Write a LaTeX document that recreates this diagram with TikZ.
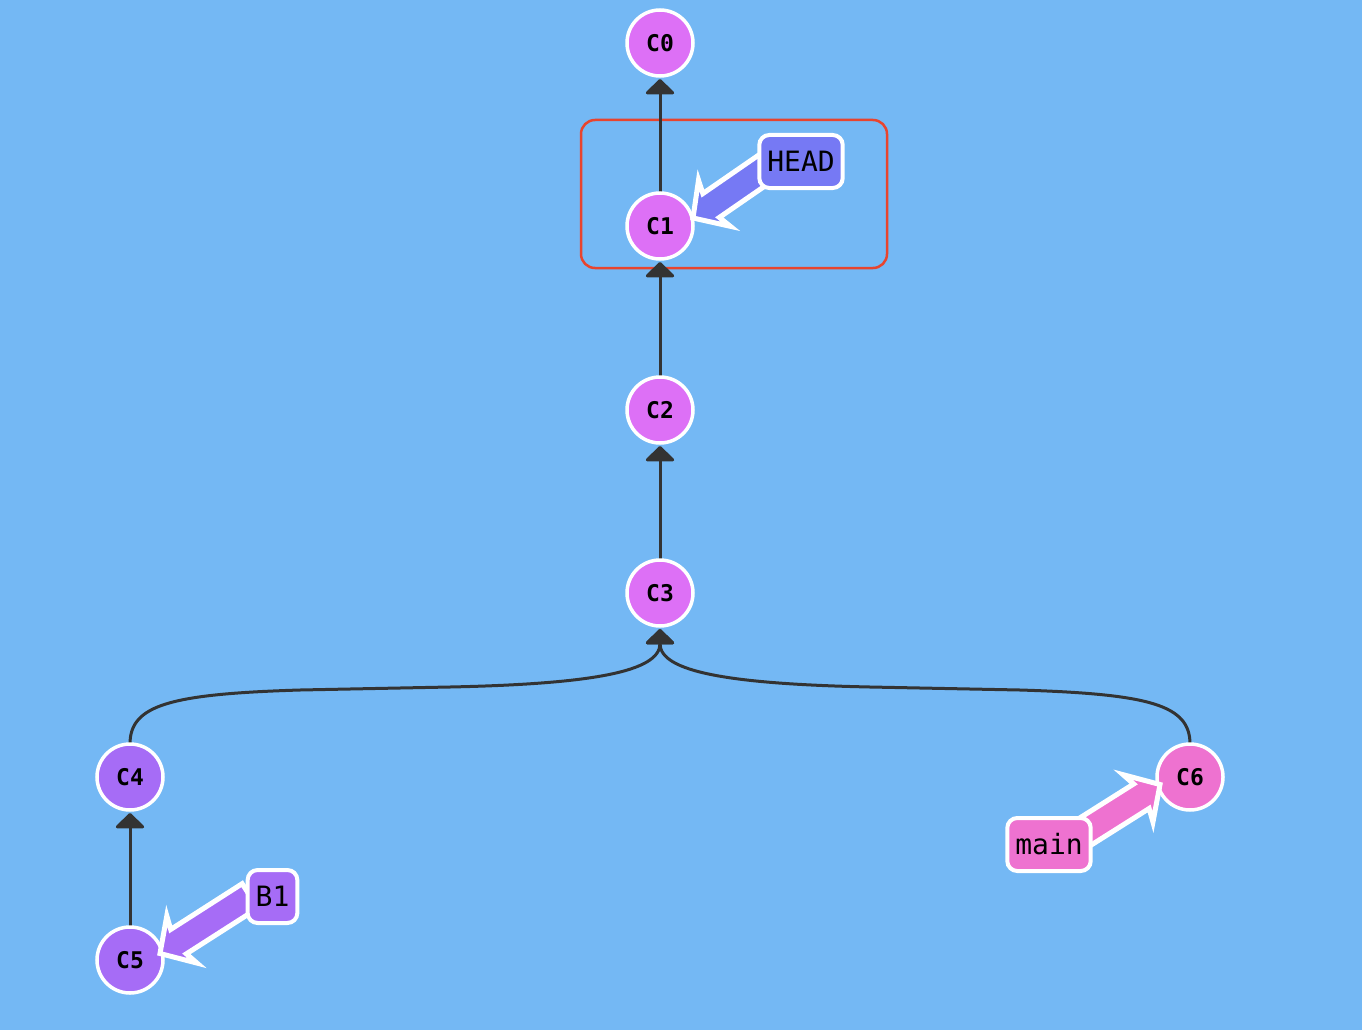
\documentclass[tikz,border=0pt]{standalone}
\usepackage{fontspec}
\setmonofont{DejaVu Sans Mono}
\usetikzlibrary{calc,arrows.meta}
\pgfdeclarelayer{bg}
\pgfdeclarelayer{arrows}
\pgfdeclarelayer{labels}
\pgfsetlayers{bg,main,arrows,labels}
\definecolor{bgblue}{RGB}{116,184,244}
\definecolor{cpink}{RGB}{221,112,246}
\definecolor{cpurple}{RGB}{166,108,246}
\definecolor{cmain}{RGB}{238,114,208}
\definecolor{chead}{RGB}{118,121,244}
\definecolor{edgegray}{RGB}{51,51,51}
\definecolor{boxred}{RGB}{232,68,46}
\tikzset{
  commit/.style={circle, draw=white, line width=3.5pt, minimum size=66pt, inner sep=0pt, outer sep=0pt,
    font=\ttfamily\bfseries\fontsize{23}{23}\selectfont},
  reflabel/.style={draw=white, line width=4pt, rounded corners=10pt, minimum height=53pt,
    inner xsep=8pt, inner ysep=0pt, font=\ttfamily\fontsize{28}{28}\selectfont},
  parentedge/.style={draw=edgegray, line width=3pt, -{Triangle[width=32pt,length=16pt,round]}, shorten >=3pt},
}
% #1 name, #2 tip coordinate, #3 tail coordinate, #4 colour
\newcommand\fatarrow[4]{%
  \coordinate (#1-barb) at ($(#2)!26pt!(#3)$);
  \coordinate (#1-notch) at ($(#2)!22pt!(#3)$);
  \coordinate (#1-end) at ($(#2)!0.8!(#3)$);
  \filldraw[fill=#4, draw=white, line width=5pt, line join=miter]
    (#2) -- ($(#1-barb)!28pt!90:(#2)$) -- ($(#1-notch)!14.5pt!90:(#2)$)
    -- ($(#1-end)!14.5pt!90:(#2)$) -- ($(#1-end)!14.5pt!-90:(#2)$)
    -- ($(#1-notch)!14.5pt!-90:(#2)$) -- ($(#1-barb)!28pt!-90:(#2)$) -- cycle;
}
\begin{document}
\begin{tikzpicture}[x=1pt,y=-1pt]
\begin{pgfonlayer}{bg}
  \fill[bgblue] (0,0) rectangle (1362,1030);
  \useasboundingbox (0,0) rectangle (1362,1030);
  \draw[boxred, line width=2.5pt, rounded corners=14pt] (581,120) rectangle (887,268);
\end{pgfonlayer}

\node[commit, fill=cpink] (C0) at (660,43) {C0};
\node[commit, fill=cpink] (C1) at (660,226) {C1};
\node[commit, fill=cpink] (C2) at (660,410) {C2};
\node[commit, fill=cpink] (C3) at (660,593) {C3};
\node[commit, fill=cpurple] (C4) at (130,777) {C4};
\node[commit, fill=cpurple] (C5) at (130,960) {C5};
\node[commit, fill=cmain] (C6) at (1190,777) {C6};

\begin{pgfonlayer}{labels}
  \node[reflabel, fill=chead] (HEAD) at (801,161.5) {HEAD};
  \node[reflabel, fill=cpurple] (B1) at (272.5,896.5) {B1};
  \node[reflabel, fill=cmain] (main) at (1049,844.5) {main};
\end{pgfonlayer}

\begin{pgfonlayer}{bg}
  \draw[parentedge] (C1.north) -- (C0.south);
  \draw[parentedge] (C2.north) -- (C1.south);
  \draw[parentedge] (C3.north) -- (C2.south);
  \draw[parentedge] (C5.north) -- (C4.south);
  \draw[parentedge] (C4.north) .. controls +(0,-39) and ($(C4.north)+(40,-50)$) .. ($(C4.north)+(170,-54)$)
     -- ($(C3.south)+(-210,61)$) .. controls ($(C3.south)+(-70,58)$) and ($(C3.south)+(0,46)$) .. (C3.south);
  \draw[parentedge] (C6.north) .. controls +(0,-39) and ($(C6.north)+(-40,-50)$) .. ($(C6.north)+(-170,-54)$)
     -- ($(C3.south)+(210,61)$) .. controls ($(C3.south)+(70,58)$) and ($(C3.south)+(0,46)$) .. (C3.south);
\end{pgfonlayer}

\begin{pgfonlayer}{arrows}
  \coordinate (HEAD-tip) at ($(C1)+(33,-8)$);
  \coordinate (HEAD-tail) at ($(HEAD)+(0,-18)$);
  \coordinate (B1-tip) at ($(C5)+(30,-6.5)$);
  \coordinate (B1-tail) at ($(B1)+(0,-15)$);
  \coordinate (main-tip) at ($(C6)+(-30,7.5)$);
  \coordinate (main-tail) at ($(main)+(0,10)$);
  \fatarrow{HEAD}{HEAD-tip}{HEAD-tail}{chead}
  \fatarrow{B1}{B1-tip}{B1-tail}{cpurple}
  \fatarrow{main}{main-tip}{main-tail}{cmain}
\end{pgfonlayer}
\end{tikzpicture}
\end{document}
